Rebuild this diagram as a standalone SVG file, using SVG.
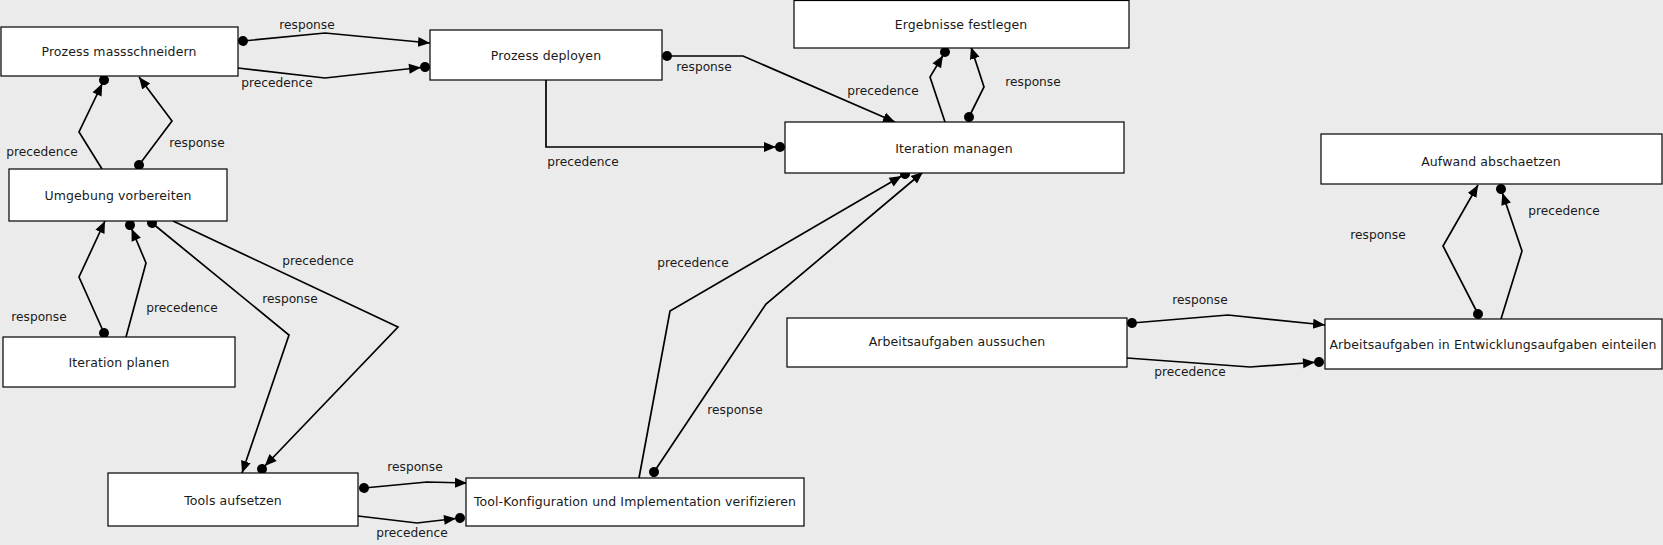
<svg xmlns="http://www.w3.org/2000/svg" width="1663" height="545" viewBox="0 0 1663 545">
<defs>
<style>
.bg{fill:#ebebeb}
.node rect{fill:#fff;stroke:#000;stroke-width:1.2}
.node text{font-family:"DejaVu Sans","Liberation Sans",sans-serif;font-size:12.5px;letter-spacing:0.1px;fill:#1a1a1a;text-anchor:middle}
.edge{fill:none;stroke:#000;stroke-width:1.7}
.lbl{font-family:"DejaVu Sans","Liberation Sans",sans-serif;font-size:12.2px;fill:#1a1a1a;text-anchor:middle}
.resp{marker-start:url(#dot);marker-end:url(#arrow)}
.prec{marker-end:url(#arrowdot)}
</style>
<marker id="arrow" markerUnits="userSpaceOnUse" viewBox="-12 -6 13 12" refX="0" refY="0" markerWidth="13" markerHeight="12" orient="auto">
<path d="M0,0 L-12,-5 L-12,5 z" fill="#000"/>
</marker>
<marker id="dot" markerUnits="userSpaceOnUse" viewBox="-6 -6 12 12" refX="0" refY="0" markerWidth="12" markerHeight="12" orient="auto">
<circle cx="0" cy="0" r="5" fill="#000"/>
</marker>
<marker id="arrowdot" markerUnits="userSpaceOnUse" viewBox="-18 -6 24 12" refX="0" refY="0" markerWidth="24" markerHeight="12" orient="auto">
<circle cx="0" cy="0" r="5" fill="#000"/>
<path d="M-4,0 L-16,-5 L-16,5 z" fill="#000"/>
</marker>
</defs>
<rect class="bg" x="0" y="0" width="1663" height="545"/>

<g id="connectors">
<path class="edge resp" d="M243,41 L325,33 L430,43"/>
<text class="lbl" x="307" y="29">response</text>
<path class="edge prec" d="M238,68 L325,78 L425,67"/>
<text class="lbl" x="277" y="87">precedence</text>

<path class="edge resp" d="M667,56 L743,56 L895,122"/>
<text class="lbl" x="704" y="71">response</text>
<path class="edge prec" d="M546,80 L546,147 L780,147"/>
<text class="lbl" x="583" y="166">precedence</text>

<path class="edge prec" d="M945,122 L930,77 L945,52"/>
<text class="lbl" x="883" y="95">precedence</text>
<path class="edge resp" d="M969,117 L984,87 L971,47"/>
<text class="lbl" x="1033" y="86">response</text>

<path class="edge prec" d="M102,169 L79,132 L104,80"/>
<text class="lbl" x="42" y="156">precedence</text>
<path class="edge resp" d="M139,165 L172,121 L139,77"/>
<text class="lbl" x="197" y="147">response</text>

<path class="edge resp" d="M104,333 L79,277 L105,221"/>
<text class="lbl" x="39" y="321">response</text>
<path class="edge prec" d="M126,337 L146,263 L130,225"/>
<text class="lbl" x="182" y="312">precedence</text>

<path class="edge resp" d="M152,223 L289,335 L242,473"/>
<text class="lbl" x="290" y="303">response</text>
<path class="edge prec" d="M173,221 L398,327 L262,469"/>
<text class="lbl" x="318" y="265">precedence</text>

<path class="edge resp" d="M364,488 L427,482 L467,483"/>
<text class="lbl" x="415" y="471">response</text>
<path class="edge prec" d="M358,516 L417,523 L460,518"/>
<text class="lbl" x="412" y="537">precedence</text>

<path class="edge prec" d="M639,478 L670,311 L905,174"/>
<text class="lbl" x="693" y="267">precedence</text>
<path class="edge resp" d="M654,472 L766,304 L923,172"/>
<text class="lbl" x="735" y="414">response</text>

<path class="edge resp" d="M1132,323 L1228,315 L1325,325"/>
<text class="lbl" x="1200" y="304">response</text>
<path class="edge prec" d="M1127,358 L1250,367 L1319,362"/>
<text class="lbl" x="1190" y="376">precedence</text>

<path class="edge resp" d="M1478,314 L1443,246 L1478,185"/>
<text class="lbl" x="1378" y="239">response</text>
<path class="edge prec" d="M1501,319 L1522,251 L1501,189"/>
<text class="lbl" x="1564" y="215">precedence</text>
</g>

<g id="n-prozess-massschneidern" class="node"><rect x="1" y="27" width="237" height="49"/><text x="119" y="56">Prozess massschneidern</text></g>
<g id="n-prozess-deployen" class="node"><rect x="430" y="30" width="232" height="50"/><text x="546" y="60">Prozess deployen</text></g>
<g id="n-ergebnisse-festlegen" class="node"><rect x="794" y="0.5" width="335" height="47.5"/><text x="961" y="29">Ergebnisse festlegen</text></g>
<g id="n-iteration-managen" class="node"><rect x="785" y="122" width="339" height="51"/><text x="954" y="153">Iteration managen</text></g>
<g id="n-aufwand-abschaetzen" class="node"><rect x="1321" y="134" width="341" height="50"/><text x="1491" y="166">Aufwand abschaetzen</text></g>
<g id="n-arbeitsaufgaben-aussuchen" class="node"><rect x="787" y="318" width="340" height="49"/><text x="957" y="346">Arbeitsaufgaben aussuchen</text></g>
<g id="n-arbeitsaufgaben-einteilen" class="node"><rect x="1325" y="319" width="337" height="50"/><text x="1493" y="349">Arbeitsaufgaben in Entwicklungsaufgaben einteilen</text></g>
<g id="n-umgebung-vorbereiten" class="node"><rect x="9" y="169" width="218" height="52"/><text x="118" y="200">Umgebung vorbereiten</text></g>
<g id="n-iteration-planen" class="node"><rect x="3" y="337" width="232" height="50"/><text x="119" y="367">Iteration planen</text></g>
<g id="n-tools-aufsetzen" class="node"><rect x="108" y="473" width="250" height="53"/><text x="233" y="505">Tools aufsetzen</text></g>
<g id="n-tool-konfiguration" class="node"><rect x="466" y="478" width="338" height="48"/><text x="635" y="506">Tool-Konfiguration und Implementation verifizieren</text></g>
</svg>
